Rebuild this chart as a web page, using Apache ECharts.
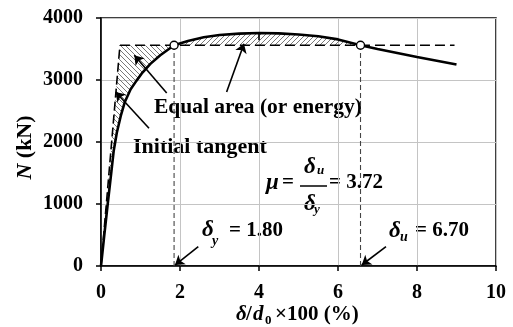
<!DOCTYPE html>
<html>
<head>
<meta charset="utf-8">
<script src="https://cdn.jsdelivr.net/npm/echarts@6/dist/echarts.min.js"></script>
<style>
  html, body { margin: 0; padding: 0; background: #fff; }
  #chart { width: 513px; height: 327px; }
</style>
</head>
<body>
<div id="chart"></div>
<script>
  // 荷载-位移曲线
  const dispX = [0, 0.08, 0.17, 0.25, 0.32, 0.4, 0.5, 0.6, 0.75, 0.9, 1.05, 1.25, 1.5, 1.85, 2.2, 2.6, 3.0, 3.5, 4.0, 4.5, 5.0, 5.5, 6.0, 6.57, 7.0, 7.5, 8.0, 8.5, 9.0];
  const loadN = [0, 480, 1000, 1450, 1850, 2150, 2420, 2640, 2850, 2990, 3120, 3260, 3400, 3560, 3630, 3690, 3725, 3748, 3757, 3752, 3735, 3705, 3655, 3560, 3500, 3435, 3370, 3310, 3250];

  const yieldX = 1.85;      // δy
  const ultX = 6.57;        // δu
  const yieldN = 3560;      // 等效屈服荷载
  const tangentX = 0.48;    // 初始切线与水平线交点
  const lineEndX = 8.95;
  const peakX = 4.0, peakTop = 3757, peakBottom = 3640;

  const xTicks = [0, 2, 4, 6, 8, 10];
  const yTicks = [0, 1000, 2000, 3000, 4000];

  // arrows: [from, to]
  const arrows = [
    [[1.215, 2222], [0.372, 2807]],
    [[1.663, 2791], [0.843, 3398]],
    [[3.18, 2807], [3.62, 3586]],
    [[2.463, 311], [1.873, 16]],
    [[7.215, 311], [6.6, 16]]
  ];

  const curve = dispX.map((x, i) => [x, loadN[i]]);

  // 阴影区域
  const leftPoly = [[0, 0], [tangentX, yieldN], [yieldX, yieldN]]
    .concat(curve.filter(p => p[0] < yieldX).reverse());
  const topPoly = [[yieldX, yieldN]]
    .concat(curve.filter(p => p[0] > yieldX && p[0] < ultX))
    .concat([[ultX, yieldN]]);

  function makeHatch(dir) {
    const c = document.createElement('canvas');
    const s = 5;
    c.width = s; c.height = s;
    const g = c.getContext('2d');
    g.strokeStyle = '#6a6a6a';
    g.lineWidth = 0.9;
    g.beginPath();
    if (dir > 0) {
      g.moveTo(0, s); g.lineTo(s, 0);
      g.moveTo(-1, 1); g.lineTo(1, -1);
      g.moveTo(s - 1, s + 1); g.lineTo(s + 1, s - 1);
    } else {
      g.moveTo(0, 0); g.lineTo(s, s);
      g.moveTo(s - 1, -1); g.lineTo(s + 1, 1);
      g.moveTo(-1, s - 1); g.lineTo(1, s + 1);
    }
    g.stroke();
    return { image: c, repeat: 'repeat' };
  }

  function hatchSeries(pts, dir) {
    const pattern = makeHatch(dir);
    return {
      type: 'custom',
      silent: true,
      z: 1,
      data: [[0, 0]],
      renderItem: (params, api) => ({
        type: 'polygon',
        shape: { points: pts.map(p => api.coord(p)) },
        style: { fill: pattern, stroke: null }
      })
    };
  }

  const FF = '"Liberation Serif", "Times New Roman", serif';
  function txt(text, x, y, size, italic, align) {
    return {
      type: 'text',
      silent: true,
      style: {
        text: text, x: x, y: y,
        font: (italic ? 'italic ' : '') + 'bold ' + size + 'px ' + FF,
        fill: '#000',
        textAlign: align || 'left', align: align || 'left',
        textVerticalAlign: 'middle', verticalAlign: 'middle'
      }
    };
  }

  const dashed = (data, w, dash, color) => ({
    type: 'line', data: data, symbol: 'none', silent: true, z: 3,
    lineStyle: { color: color || '#000', width: w, type: dash }
  });

  const chart = echarts.init(document.getElementById('chart'));
  const option = {
    animation: false,
    grid: {
      left: 101, right: 17, top: 18, bottom: 61,
      show: true, borderColor: '#000', borderWidth: 1.5
    },
    xAxis: {
      type: 'value', min: 0, max: 10, interval: 2,
      axisLine: { lineStyle: { color: '#000', width: 1.5 } },
      axisTick: { show: true, inside: false, length: 5, lineStyle: { color: '#000', width: 1.5 } },
      axisLabel: {
        color: '#000', fontFamily: FF, fontWeight: 'bold', fontSize: 20, margin: 17,
        formatter: v => xTicks.includes(v) ? String(v) : ''
      },
      splitLine: { show: true, lineStyle: { color: '#c4c4c4', width: 1 } }
    },
    yAxis: {
      type: 'value', min: 0, max: 4000, interval: 1000,
      axisLine: { show: true, lineStyle: { color: '#000', width: 1.5 } },
      axisTick: { show: true, inside: false, length: 5, lineStyle: { color: '#000', width: 1.5 } },
      axisLabel: {
        color: '#000', fontFamily: FF, fontWeight: 'bold', fontSize: 20, margin: 18,
        formatter: v => yTicks.includes(v) ? String(v) : ''
      },
      splitLine: { show: true, lineStyle: { color: '#c4c4c4', width: 1 } }
    },
    series: [
      hatchSeries(leftPoly, -1),
      hatchSeries(topPoly, 1),
      dashed([[tangentX, yieldN], [lineEndX, yieldN]], 1.6, [10, 5]),
      dashed([[0, 0], [tangentX, yieldN]], 1.6, [9, 4]),
      dashed([[yieldX, 0], [yieldX, yieldN]], 1.1, [5, 3], '#444'),
      dashed([[ultX, 0], [ultX, yieldN]], 1.1, [5, 3], '#444'),
      dashed([[peakX, peakTop], [peakX, peakBottom]], 1.6, 'solid'),
      {
        type: 'line', data: curve, symbol: 'none', silent: true, z: 4,
        lineStyle: { color: '#000', width: 2.6 }
      },
      {
        type: 'scatter', data: [[yieldX, yieldN], [ultX, yieldN]], z: 5, silent: true,
        symbol: 'circle', symbolSize: 8,
        itemStyle: { color: '#fff', opacity: 1, borderColor: '#000', borderWidth: 1.4 }
      },
      {
        type: 'line', data: [], silent: true,
        markLine: {
          silent: true, symbol: ['none', 'arrow'], symbolSize: 9,
          label: { show: false },
          lineStyle: { color: '#000', width: 1.6, type: 'solid' },
          data: arrows.map(a => [{ coord: a[0] }, { coord: a[1] }])
        }
      }
    ],
    graphic: [
      txt('Equal area (or energy)', 154, 107, 21.5, false),
      txt('Initial tangent', 133, 147, 22, false),
      // δy = 1.80
      txt('δ', 202, 230, 23, true),
      txt('y', 212, 241, 14, true),
      txt('= 1.80', 229, 231, 21, false),
      // δu = 6.70
      txt('δ', 389, 231, 23, true),
      txt('u', 400, 237.5, 14, true),
      txt('= 6.70', 415, 231, 21, false),
      // μ = δu/δy = 3.72
      txt('μ', 266, 183, 23, true),
      txt('=', 282, 183, 21, false),
      {
        type: 'line', silent: true,
        shape: { x1: 300, y1: 186, x2: 327, y2: 186 },
        style: { stroke: '#000', lineWidth: 1.5 }
      },
      txt('δ', 304, 167, 23, true),
      txt('u', 317, 171, 13, true),
      txt('δ', 304, 204, 23, true),
      txt('y', 314, 210, 13, true),
      txt('= 3.72', 329, 183, 21, false),
      // x axis name
      txt('δ', 236, 315, 21, true),
      txt('/', 246, 315, 21, false),
      txt('d', 253, 315, 21, true),
      txt('0', 265, 321, 13, false),
      txt('×100 (%)', 275, 315, 21, false),
      // y axis name
      {
        type: 'text', silent: true, x: 25, y: 147.5, rotation: Math.PI / 2,
        style: {
          text: '{i|N} (kN)',
          font: 'bold 22px ' + FF, fill: '#000',
          textAlign: 'center', align: 'center',
          textVerticalAlign: 'middle', verticalAlign: 'middle',
          rich: { i: { fontStyle: 'italic', fontWeight: 'bold', fontSize: 22, fontFamily: FF } }
        }
      }
    ]
  };
  chart.setOption(option);
</script>
</body>
</html>
